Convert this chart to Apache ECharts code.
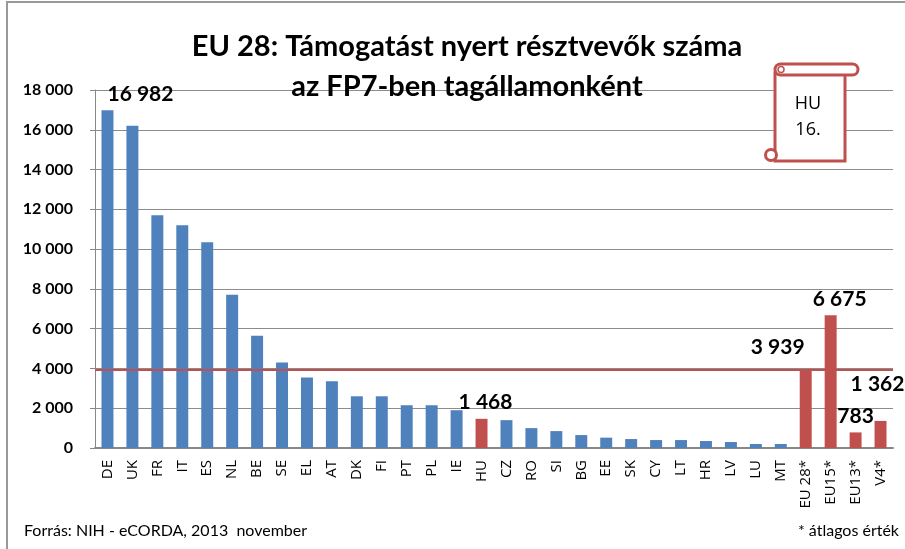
<!DOCTYPE html>
<html>
<head>
<meta charset="utf-8">
<script src="https://cdn.jsdelivr.net/npm/echarts@6/dist/echarts.min.js"></script>
<style>
html,body{margin:0;padding:0;background:#fff;}
#main{width:905px;height:549px;}
</style>
</head>
<body>
<div id="main"></div>
<script>
var countries = ['DE','UK','FR','IT','ES','NL','BE','SE','EL','AT','DK','FI','PT','PL','IE','HU','CZ','RO','SI','BG','EE','SK','CY','LT','HR','LV','LU','MT','EU 28*','EU15*','EU13*','V4*'];
var participants = [16982,16200,11700,11200,10350,7700,5650,4300,3550,3350,2600,2600,2150,2150,1900,1468,1400,1000,850,650,520,450,400,400,350,300,200,200,3939,6675,783,1362];
var highlighted = ['HU','EU 28*','EU15*','EU13*','V4*'];
var labelled = {'DE':[33,0],'HU':[4,0],'EU 28*':[-28,-6],'EU15*':[9,0],'EU13*':[0,0],'V4*':[-3,-20]};
var yTicks = [0,2000,4000,6000,8000,10000,12000,14000,16000,18000];
var avgLine = 3939;

var blue = '#4F81BD', red = '#C0504D';
function fmt(v){ return String(v).replace(/\B(?=(\d{3})+(?!\d))/g, ' '); }

var dom = document.getElementById('main');
var myChart = echarts.init(dom);

var barData = countries.map(function(c, i){
	var item = { value: participants[i], itemStyle: { color: highlighted.indexOf(c) >= 0 ? red : blue } };
	if (labelled[c]) {
		item.label = { show: true, position: 'top', offset: labelled[c], formatter: function(p){ return fmt(p.value); } };
	}
	return item;
});

var option = {
	animation: false,
	title: {
		text: 'EU 28: Támogatást nyert résztvevők száma\naz FP7-ben tagállamonként',
		left: 462, top: 22, textAlign: 'center',
		textStyle: { fontFamily: 'Lato', fontWeight: 'bold', fontSize: 29, lineHeight: 40, color: '#000' }
	},
	grid: { left: 95, right: 12, top: 90, bottom: 101 },
	xAxis: {
		type: 'category',
		data: countries,
		axisLine: { lineStyle: { color: '#888', width: 2 } },
		axisTick: { show: false },
		axisLabel: { interval: 0, rotate: 90, fontFamily: 'Open Sans', fontSize: 15, color: '#000', margin: 12 }
	},
	yAxis: {
		type: 'value', min: 0, max: 18000, interval: 2000,
		axisLine: { show: true, lineStyle: { color: '#888', width: 1 } },
		axisTick: { show: true, length: 5, lineStyle: { color: '#888' } },
		splitLine: { lineStyle: { color: '#8c8c8c', width: 1 } },
		axisLabel: { fontFamily: 'Lato', fontWeight: 'bold', fontSize: 16, color: '#000', margin: 22,
			formatter: function(v){ return yTicks.indexOf(v) >= 0 ? fmt(v) : ''; } }
	},
	series: [{
		type: 'bar',
		data: barData,
		barWidth: '48%',
		label: { fontFamily: 'Lato', fontWeight: 'bold', fontSize: 21, color: '#000', distance: 6 },
		markLine: {
			silent: true, symbol: 'none', label: { show: false },
			lineStyle: { color: red, width: 2, type: 'solid' },
			data: [{ yAxis: avgLine }]
		}
	}],
	graphic: [
		{ type: 'rect', shape: { x: 7, y: 2, width: 905, height: 560 }, style: { fill: 'none', stroke: '#999', lineWidth: 2 }, silent: true },
		{ type: 'rect', shape: { x: 775, y: 73, width: 70, height: 88 }, style: { fill: '#fff', stroke: red, lineWidth: 3 }, z: 10 },
		{ type: 'rect', shape: { x: 775, y: 64, width: 83, height: 11, r: 5.5 }, style: { fill: '#fff', stroke: red, lineWidth: 3 }, z: 11 },
		{ type: 'circle', shape: { cx: 781, cy: 69.5, r: 3 }, style: { fill: 'none', stroke: red, lineWidth: 1.5 }, z: 12 },
		{ type: 'circle', shape: { cx: 771, cy: 155, r: 5.5 }, style: { fill: '#fff', stroke: red, lineWidth: 3 }, z: 12 },
		{ type: 'text', x: 808, y: 117, z: 13, style: { text: 'HU\n16.', fontFamily: 'Open Sans', fontSize: 18, lineHeight: 26, fill: '#000', align: 'center', verticalAlign: 'middle' } },
		{ type: 'text', left: 24, top: 523, style: { text: 'Forrás: NIH - eCORDA, 2013  november', fontFamily: 'Lato', fontSize: 16, fill: '#000' } },
		{ type: 'text', right: 6, top: 523, style: { text: '* átlagos érték', fontFamily: 'Lato', fontSize: 16, fill: '#000' } }
	]
};

if (option && typeof option === 'object') {
	myChart.setOption(option, true);
}
</script>
</body>
</html>
